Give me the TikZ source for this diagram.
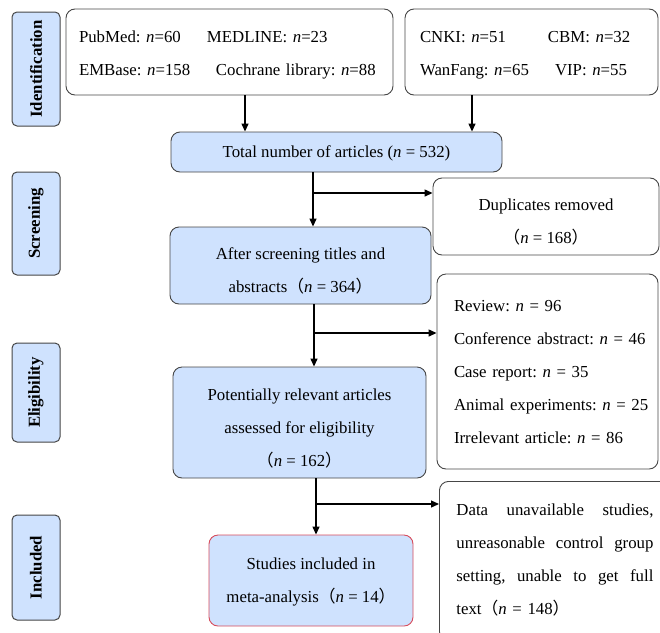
\documentclass[tikz,border=0pt]{standalone}
\usepackage{fontspec}
\setmainfont{Liberation Serif}
\newfontfamily\cjk{Noto Sans CJK SC}
\usetikzlibrary{arrows.meta}
\newcommand\fwl{{\cjk （}}
\newcommand\fwr{{\cjk ）}}
\newcommand\vst{\rule[-8pt]{0pt}{24pt}}
\newcommand\tst[1]{\rule[-8pt]{0pt}{#1pt}}
\definecolor{boxblue}{RGB}{207,226,254}
\definecolor{boxline}{RGB}{70,70,70}
\definecolor{boxred}{RGB}{215,75,90}
\frenchspacing
\begin{document}
\begin{tikzpicture}[x=1pt,y=-1pt,
  txt/.style={font=\fontsize{16.8}{33}\selectfont},
  plainbox/.style={txt, draw=boxline, line width=0.9pt, rounded corners=9pt, inner ysep=0pt},
  bluebox/.style={plainbox, fill=boxblue, align=center},
  side/.style={draw=boxline, fill=boxblue, line width=1pt, rounded corners=5pt, rotate=90,
    font=\fontsize{16.8}{20}\selectfont\bfseries, inner sep=0pt},
  arr/.style={line width=1.3pt, -{Triangle[length=8pt,width=7pt]}}
]
\useasboundingbox (0,0) rectangle (660,632);

% stage labels
\node[side, minimum width=114, minimum height=48] (idL) at (36,69) {Identification};
\node[side, minimum width=103, minimum height=48] (scrL) at (36,223.5) {Screening};
\node[side, minimum width=99, minimum height=48] (eliL) at (36,392.5) {Eligibility};
\node[side, minimum width=105, minimum height=48] (incL) at (36,567.5) {Included};

% sources
\node[plainbox, minimum width=327, minimum height=86, inner xsep=13pt, text width=301pt, align=left]
  (srcA) at (229.5,52)
  {\tst{30}\makebox[128pt][l]{PubMed: \textit{n}=60}MEDLINE: \textit{n}=23\\
   \vst\makebox[137pt][l]{EMBase: \textit{n}=158}Cochrane library: \textit{n}=88};
\node[plainbox, minimum width=253, minimum height=86, inner xsep=15pt, text width=223pt, align=left]
  (srcB) at (531.5,52)
  {\tst{30}\makebox[128pt][l]{CNKI: \textit{n}=51}CBM: \textit{n}=32\\
   \vst\makebox[135pt][l]{WanFang: \textit{n}=65}VIP: \textit{n}=55};

% main flow
\node[bluebox, minimum width=331, minimum height=40] (total) at (336.5,152)
  {\tst{26}Total number of articles (\textit{n} = 532)};
\node[bluebox, minimum width=261, minimum height=77] (after) at (300.5,265.5)
  {\tst{36}After screening titles and\\\vst abstracts\fwl\textit{n} = 364\fwr};
\node[bluebox, minimum width=253, minimum height=111] (pot) at (299.5,422.5)
  {\tst{38}Potentially relevant articles\\assessed for eligibility\\\vst\fwl\textit{n} = 162\fwr};
\node[bluebox, draw=boxred, minimum width=204, minimum height=91] (incl) at (311,580.5)
  {\tst{27}Studies included in\\\vst meta-analysis\fwl\textit{n} = 14\fwr};

% exclusions
\node[plainbox, minimum width=226, minimum height=77, align=center] (dup) at (546,216.5)
  {\tst{36}Duplicates removed\\\vst\fwl\textit{n} = 168\fwr};
\node[plainbox, minimum width=221, minimum height=195, inner xsep=17pt, text width=187pt, align=left]
  (excl) at (547.5,371.5)
  {\tst{28}\mbox{Review: \textit{n} = 96}\\\mbox{Conference abstract: \textit{n} = 46}\\
   \mbox{Case report: \textit{n} = 35}\\\mbox{Animal experiments: \textit{n} = 25}\\
   \vst\mbox{Irrelevant article: \textit{n} = 86}};
\node[plainbox, anchor=north west, minimum width=231, minimum height=159, inner xsep=17pt,
  text width=197pt, align=left] (excl2) at (439,481)
  {\vst\makebox[197pt][l]{Data\hfill unavailable\hfill studies,}\\
   \makebox[197pt][l]{unreasonable\hfill control\hfill group}\\
   \makebox[197pt][l]{setting,\hfill unable\hfill to\hfill get\hfill full}\\
   \vst text\fwl\textit{n} = 148\fwr};

% helper coordinates
\coordinate (xa) at (245,0);
\coordinate (xb) at (472,0);
\coordinate (x1) at (313,0);
\coordinate (x2) at (314,0);
\coordinate (x3) at (316,0);
\coordinate (b1) at (313,193);
\coordinate (b2) at (314,333);
\coordinate (b3) at (316,504);

% connectors
\draw[arr] (srcA.south -| xa) -- (total.north -| xa);
\draw[arr] (srcB.south -| xb) -- (total.north -| xb);
\draw[arr] (total.south -| x1) -- (after.north -| x1);
\draw[arr] (b1) -- (b1 -| dup.west);
\draw[arr] (after.south -| x2) -- (pot.north -| x2);
\draw[arr] (b2) -- (b2 -| excl.west);
\draw[arr] (pot.south -| x3) -- (incl.north -| x3);
\draw[arr] (b3) -- (b3 -| excl2.west);
\end{tikzpicture}
\end{document}
